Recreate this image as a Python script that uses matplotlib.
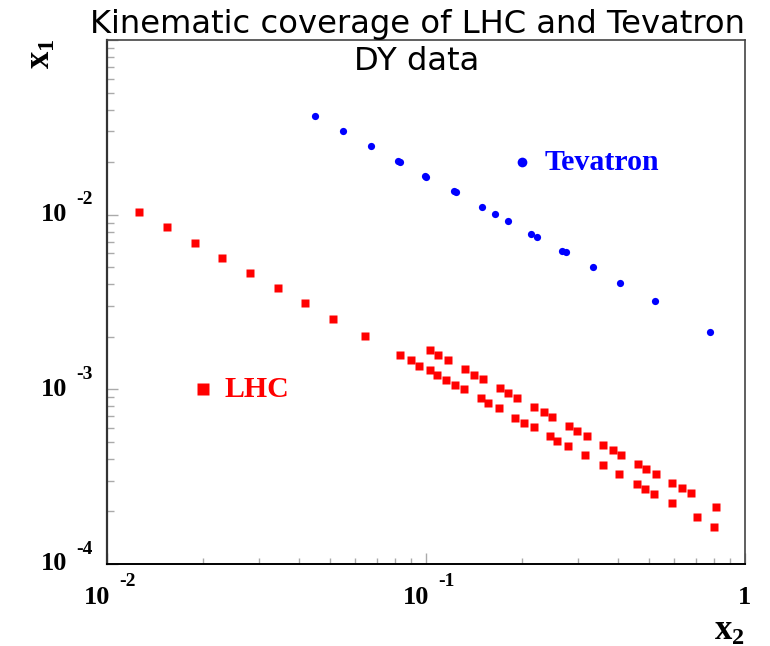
import matplotlib
matplotlib.use('Agg')
import matplotlib.pyplot as plt
from matplotlib.ticker import LogLocator, NullFormatter

plt.rcParams['mathtext.fontset'] = 'custom'
plt.rcParams['mathtext.rm'] = 'Liberation Serif:bold'
plt.rcParams['mathtext.bf'] = 'Liberation Serif:bold'
plt.rcParams['mathtext.it'] = 'Liberation Serif:bold'

# Tevatron DY bins (x2, x1)
tev_x2 = [0.0450, 0.0551, 0.0673, 0.0818, 0.0828, 0.0993, 0.1002, 0.122, 0.124, 0.150,
          0.165, 0.181, 0.214, 0.223, 0.266, 0.274, 0.334, 0.406, 0.523, 0.778]
tev_x1 = [0.0369, 0.0303, 0.0247, 0.0203, 0.0200, 0.0167, 0.0165, 0.0136, 0.0134, 0.0111,
          0.01005, 0.00917, 0.00778, 0.00745, 0.00622, 0.00609, 0.00500, 0.00408, 0.00319, 0.00214]

# LHC DY bins (x2, x1)
lhc_x2 = [0.0126, 0.01538, 0.01884, 0.02298, 0.02805, 0.0343, 0.0419, 0.0511, 0.0644,
          0.0827, 0.0899, 0.0951, 0.1029, 0.1090, 0.1172, 0.1027, 0.1083, 0.1155, 0.1236,
          0.1315, 0.1322, 0.1417, 0.1505, 0.1484, 0.1568, 0.1690, 0.1702, 0.1804, 0.1933,
          0.1905, 0.2033, 0.2176, 0.2176, 0.2339, 0.2483, 0.2448, 0.2569, 0.2802, 0.2975,
          0.3190, 0.2787, 0.3144, 0.3596, 0.3857, 0.4095, 0.3581, 0.4036, 0.4620, 0.4904,
          0.5260, 0.4597, 0.4848, 0.5184, 0.5916, 0.6345, 0.6756, 0.5904, 0.7070, 0.8094,
          0.7993]
lhc_x1 = [0.01032, 0.00847, 0.00691, 0.00565, 0.00464, 0.00379, 0.00311, 0.00254, 0.00202,
          0.00158, 0.001468, 0.001367, 0.001674, 0.001573, 0.001468, 0.001287, 0.001204,
          0.001136, 0.001056, 0.001001, 0.001303, 0.001214, 0.001147, 0.000889, 0.000832,
          0.000779, 0.001015, 0.000957, 0.000893, 0.000689, 0.000642, 0.000607, 0.000793,
          0.000739, 0.000695, 0.000539, 0.000505, 0.000617, 0.000580, 0.000543, 0.000472,
          0.000420, 0.000480, 0.000448, 0.000421, 0.000368, 0.000327, 0.000373, 0.000352,
          0.000328, 0.000286, 0.000268, 0.000253, 0.000291, 0.000272, 0.000254, 0.000223,
          0.000187, 0.000213, 0.000162]

decades = [1e-4, 1e-3, 1e-2]
y_exps = ['-4', '-3', '-2']
x_decades = [1e-2, 1e-1]
x_exps = ['-2', '-1']

fig = plt.figure(figsize=(7.7, 6.46), dpi=100)
ax = fig.add_axes([107 / 770, 82 / 646, 638 / 770, 524 / 646])
ax.set_xscale('log')
ax.set_yscale('log')
ax.set_xlim(1e-2, 1)
ax.set_ylim(1e-4, 1e-1)

ax.plot(tev_x2, tev_x1, 'o', color='#0000ff', ms=5.2, mec='none')
ax.plot(lhc_x2, lhc_x1, 's', color='#ff0000', ms=5.2, mec='none')

# legend markers and labels
ax.plot([0.2], [0.02], 'o', color='#0000ff', ms=7, mec='none')
ax.text(0.236, 0.02, 'Tevatron', color='#0000ff', fontsize=21.5, fontweight='bold',
        family='Liberation Serif', va='center', ha='left')
ax.plot([0.02], [0.001], 's', color='#ff0000', ms=8, mec='none')
ax.text(0.0233, 0.001, 'LHC', color='#ff0000', fontsize=21.5, fontweight='bold',
        family='Liberation Serif', va='center', ha='left')

# frame and ticks
for side in ['top', 'right']:
    ax.spines[side].set_color('#444444')
    ax.spines[side].set_linewidth(1.2)
ax.spines['left'].set_color('#333333')
ax.spines['left'].set_linewidth(1.6)
ax.spines['bottom'].set_color('#000000')
ax.spines['bottom'].set_linewidth(1.4)

ax.xaxis.set_major_locator(LogLocator(base=10, numticks=10))
ax.xaxis.set_minor_locator(LogLocator(base=10, subs=range(2, 10), numticks=20))
ax.yaxis.set_major_locator(LogLocator(base=10, numticks=10))
ax.yaxis.set_minor_locator(LogLocator(base=10, subs=range(2, 10), numticks=20))
ax.xaxis.set_major_formatter(NullFormatter())
ax.xaxis.set_minor_formatter(NullFormatter())
ax.yaxis.set_major_formatter(NullFormatter())
ax.yaxis.set_minor_formatter(NullFormatter())
ax.tick_params(which='both', direction='in', color='#aaaaaa', width=1,
               top=False, right=False)
ax.tick_params(axis='y', which='major', length=8)
ax.tick_params(axis='y', which='minor', length=5)
ax.tick_params(axis='x', which='major', length=8)
ax.tick_params(axis='x', which='minor', length=4.5)

tick_font = dict(family='Liberation Serif', fontweight='bold', color='black')

# y tick labels, ROOT style 10 with raised exponent
for v, e in zip(decades, y_exps):
    ax.annotate('10', (0, v), xycoords=ax.get_yaxis_transform(),
                xytext=(-40, 0), textcoords='offset pixels',
                ha='right', va='center', fontsize=19, **tick_font)
    ax.annotate(e, (0, v), xycoords=ax.get_yaxis_transform(),
                xytext=(-31, 15), textcoords='offset pixels',
                ha='left', va='center', fontsize=14, **tick_font)

# x tick labels
for v, e in zip(x_decades, x_exps):
    ax.annotate('10', (v, 0), xycoords=ax.get_xaxis_transform(),
                xytext=(3, -34), textcoords='offset pixels',
                ha='right', va='center', fontsize=19, **tick_font)
    ax.annotate(e, (v, 0), xycoords=ax.get_xaxis_transform(),
                xytext=(12, -18), textcoords='offset pixels',
                ha='left', va='center', fontsize=14, **tick_font)
ax.annotate('1', (1, 0), xycoords=ax.get_xaxis_transform(),
            xytext=(0, -34), textcoords='offset pixels',
            ha='center', va='center', fontsize=19, **tick_font)

# axis titles
fig.text(745 / 770, 1 - 630 / 646, r'$\mathbf{x}_{\mathbf{2}}$', fontsize=25,
         ha='right', va='center')
fig.text(40 / 770, 1 - 38 / 646, r'$\mathbf{x}_{\mathbf{1}}$', fontsize=25,
         ha='center', va='top', rotation=90)

# two-line title
fig.text(417 / 770, 1 - 24 / 646, 'Kinematic coverage of LHC and Tevatron',
         fontsize=23.2, family='DejaVu Sans', ha='center', va='center')
fig.text(417 / 770, 1 - 62 / 646, 'DY data',
         fontsize=23.2, family='DejaVu Sans', ha='center', va='center')

fig.savefig('out.png', dpi=100)
